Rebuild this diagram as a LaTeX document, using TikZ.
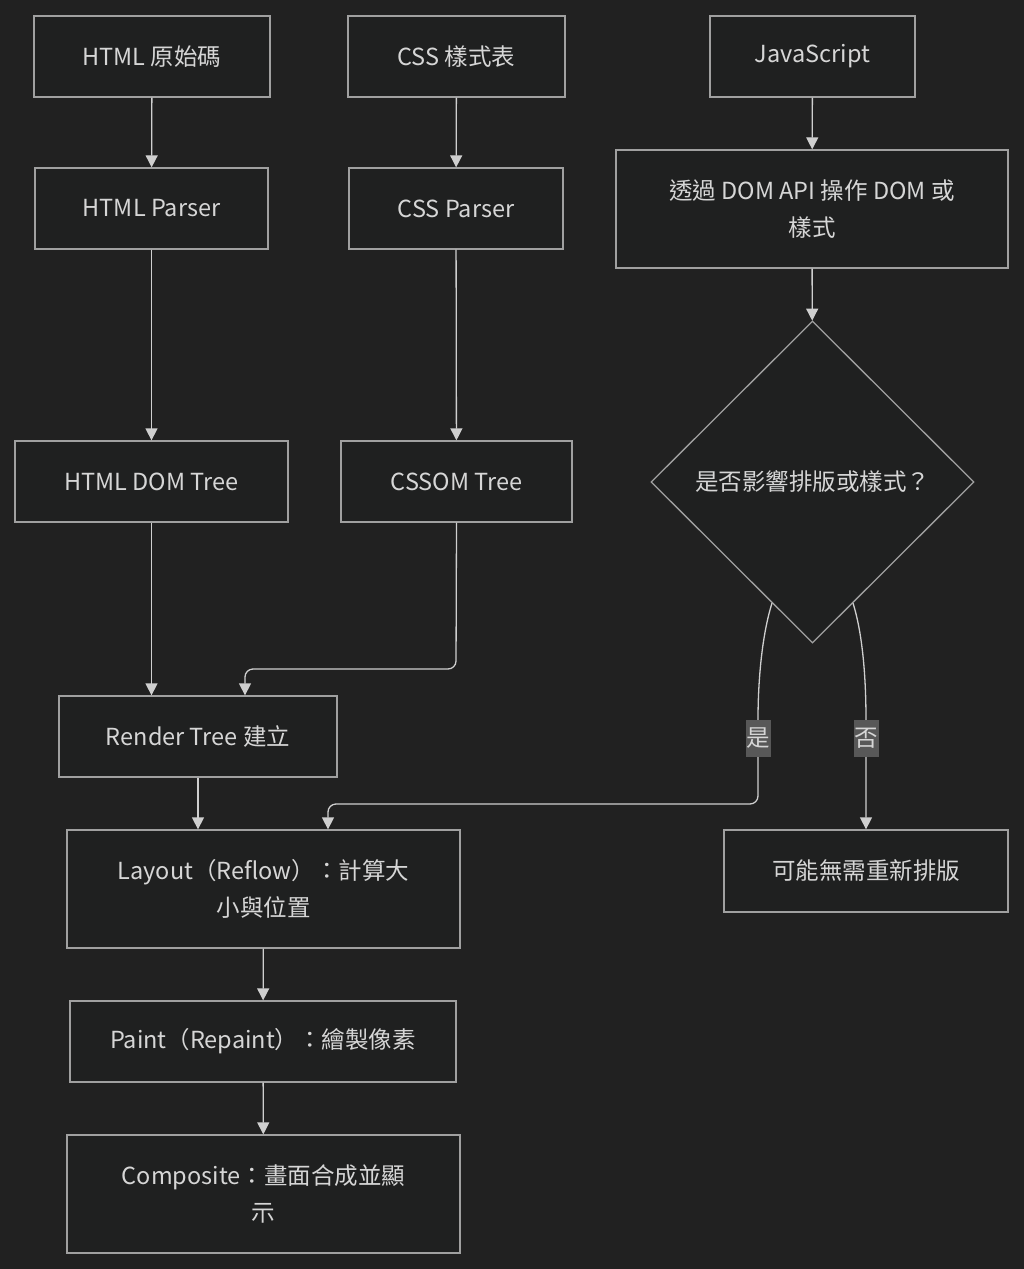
\documentclass[tikz,border=0pt]{standalone}
\usepackage{fontspec}
\setmainfont{Noto Sans CJK TC}
\usetikzlibrary{arrows.meta,shapes.geometric,calc}
\definecolor{bg}{HTML}{212121}
\definecolor{boxfill}{HTML}{1F2020}
\definecolor{bordercol}{HTML}{A0A0A0}
\definecolor{linecol}{HTML}{CFCFCF}
\definecolor{txtcol}{HTML}{D6D6D6}
\definecolor{lblfill}{HTML}{585858}
\tikzset{
  boxnode/.style={draw=bordercol, line width=1.3pt, fill=boxfill, text=txtcol,
    inner sep=0pt, align=center, font=\fontsize{23.5}{37}\selectfont},
  dianode/.style={diamond, draw=bordercol, line width=1.3pt, fill=boxfill, text=txtcol,
    inner sep=0pt, minimum width=323pt, minimum height=322pt, font=\fontsize{23.5}{37}\selectfont},
  lblnode/.style={fill=lblfill, text=txtcol, inner sep=0pt, minimum width=25pt,
    minimum height=37pt, font=\fontsize{23.5}{28}\selectfont},
  arr/.style={draw=linecol, line width=1.3pt, -{Triangle[length=12pt,width=12pt]}}
}
\begin{document}
\begin{tikzpicture}[x=1pt,y=-1pt]
\useasboundingbox[fill=bg] (0,0) rectangle (1024,1269);
% nodes
\node[boxnode, minimum width=236pt, minimum height=81pt] (html) at (152,56.5) {HTML 原始碼};
\node[boxnode, minimum width=217pt, minimum height=81pt] (css) at (456.5,56.5) {CSS 樣式表};
\node[boxnode, minimum width=205pt, minimum height=81pt] (js) at (812.5,56.5) {JavaScript};
\node[boxnode, minimum width=233pt, minimum height=81pt] (hp) at (151.5,208.5) {HTML Parser};
\node[boxnode, minimum width=214pt, minimum height=81pt] (cp) at (456,208.5) {CSS Parser};
\node[boxnode, minimum width=392pt, minimum height=118pt] (dom) at (812,209) {透過 DOM API 操作 DOM 或\\樣式};
\node[dianode] (dia) at (812.5,482) {是否影響排版或樣式？};
\node[boxnode, minimum width=273pt, minimum height=81pt] (hdt) at (151.5,481.5) {HTML DOM Tree};
\node[boxnode, minimum width=231pt, minimum height=81pt] (csst) at (456.5,481.5) {CSSOM Tree};
\node[boxnode, minimum width=278pt, minimum height=81pt] (rt) at (198,736.5) {Render Tree 建立};
\node[boxnode, minimum width=393pt, minimum height=118pt] (lay) at (263.5,889) {Layout（Reflow）：計算大\\小與位置};
\node[boxnode, minimum width=284pt, minimum height=82pt] (no) at (866,871) {可能無需重新排版};
\node[boxnode, minimum width=386pt, minimum height=81pt] (paint) at (263,1041.5) {Paint（Repaint）：繪製像素};
\node[boxnode, minimum width=393pt, minimum height=118pt] (comp) at (263.5,1194) {Composite：畫面合成並顯\\示};
% helper coordinates
\coordinate (ys0) at ($(dia.south)!0.25!(dia.west)$);
\coordinate (ys1) at (758,720);
\coordinate (ys2) at (758,804);
\coordinate (ys3) at (328,804);
\coordinate (ns0) at ($(dia.south)!0.25!(dia.east)$);
\coordinate (ns1) at (866,720);
\coordinate (cs1) at (456,669);
\coordinate (cs2) at (245,669);
% straight edges
\draw[arr] (html) -- (hp);
\draw[arr] (css) -- (cp);
\draw[arr] (js) -- (dom);
\draw[arr] (hp) -- (hdt);
\draw[arr] (cp) -- (csst);
\draw[arr] (dom) -- (dia);
\draw[arr] (hdt.south) -- (hdt.south |- rt.north);
\draw[arr, rounded corners=8pt] (csst.south) -- (cs1) -- (cs2) -- (cs2 |- rt.north);
\draw[arr] (rt.south) -- (rt.south |- lay.north);
\draw[arr] (lay) -- (paint);
\draw[arr] (paint) -- (comp);
% decision edges
\draw[arr] (ys0) .. controls (762,635) and (758,680) .. (ys1) [rounded corners=8pt] -- (ys2) -- (ys3) -- (ys3 |- lay.north);
\draw[arr] (ns0) .. controls (863,635) and (866,680) .. (ns1) -- (ns1 |- no.north);
\node[lblnode] (lyes) at (758,738) {是};
\node[lblnode] (lno) at (866,738) {否};
\end{tikzpicture}
\end{document}
